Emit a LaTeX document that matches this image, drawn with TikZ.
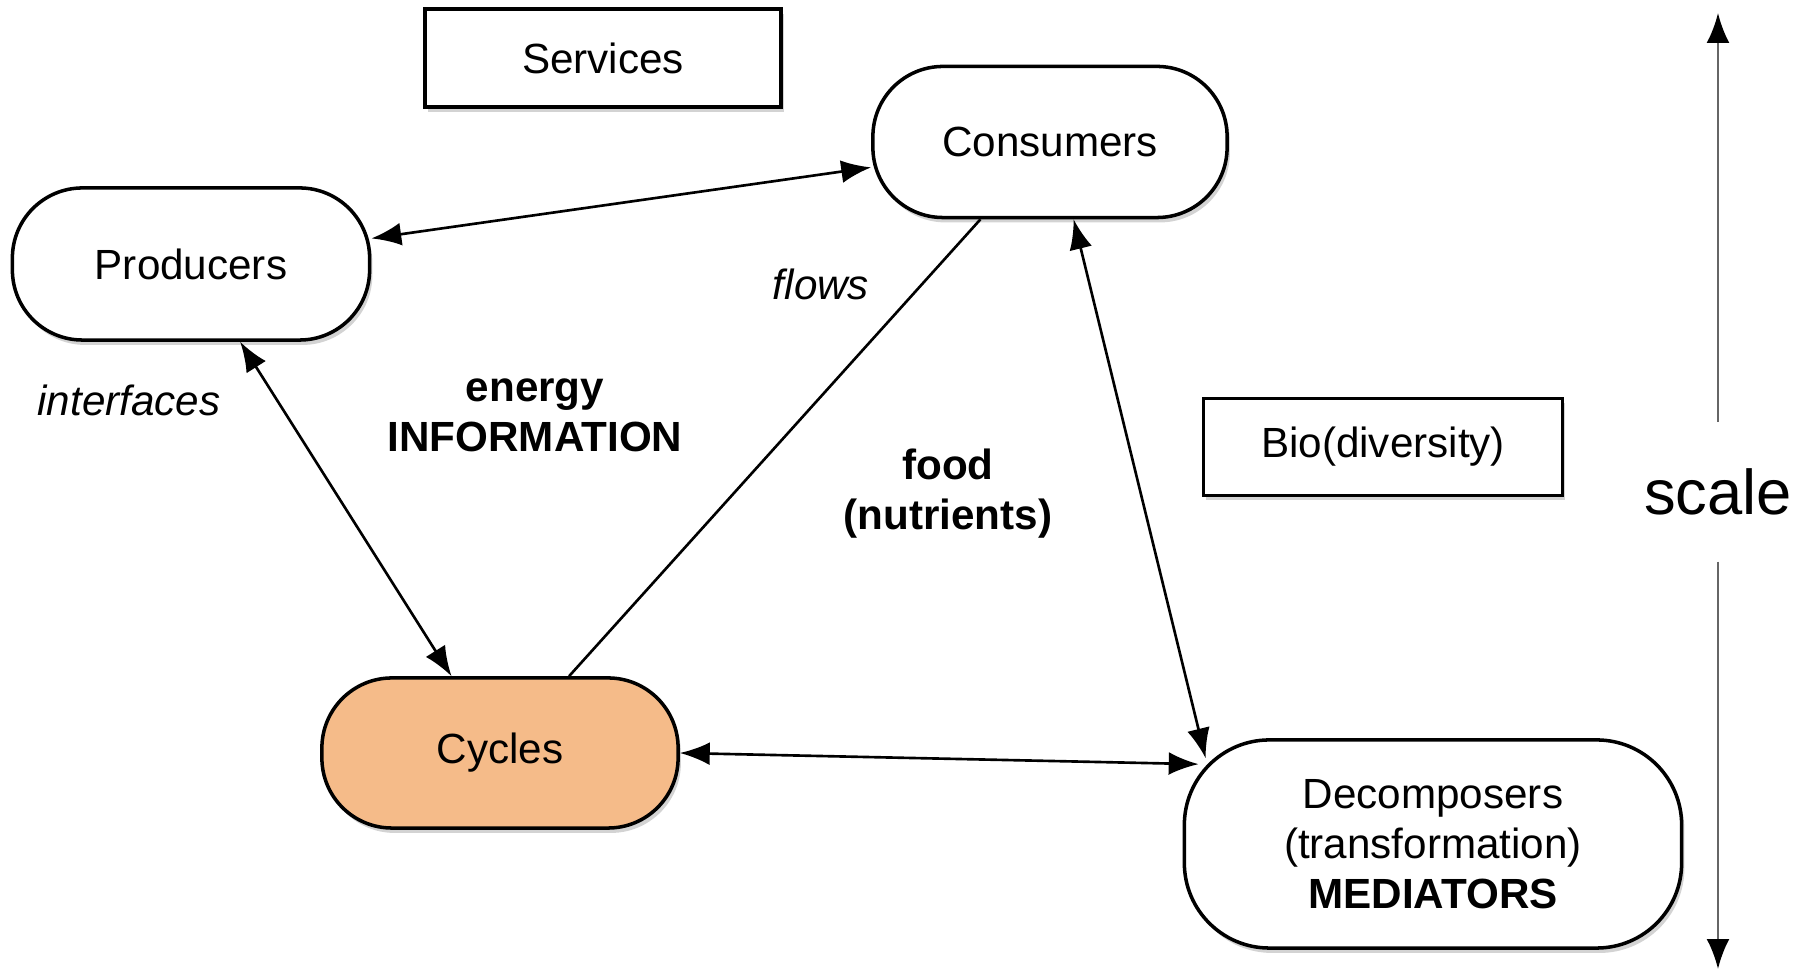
\documentclass[tikz,border=0pt]{standalone}
\usepackage{fontspec}
\setmainfont{Liberation Sans}
\usetikzlibrary{arrows.meta,calc,shadows}
\definecolor{cyclefill}{RGB}{245,187,137}

\begin{document}
\begin{tikzpicture}[x=0.01cm,y=-0.01cm,
	box/.style={draw,line width=1pt,fill=white,inner sep=0pt,align=center,
		font=\fontsize{12}{14.2}\selectfont,
		drop shadow={shadow xshift=0.8pt,shadow yshift=-1.4pt,opacity=0.35}},
	blob/.style={box,rounded corners=0.7cm},
	both/.style={{Latex[length=8.5pt,width=6.5pt]}-{Latex[length=8.5pt,width=6.5pt]},line width=0.75pt},
	lbl/.style={font=\fontsize{12}{14.2}\selectfont,align=center}]
\useasboundingbox (0,0) rectangle (1802,971);

% boxes
\node [box,minimum width=3.56cm,minimum height=0.98cm] (serv) at (603,58) {Services};
\node [blob,minimum width=3.54cm,minimum height=1.51cm] (cons) at (1050,142) {Consumers};
\node [blob,minimum width=3.57cm,minimum height=1.52cm] (prod) at (191,264) {Producers};
\node [blob,fill=cyclefill,minimum width=3.56cm,minimum height=1.50cm] (cyc) at (500,753) {Cycles};
\node [blob,rounded corners=0.85cm,minimum width=4.97cm,minimum height=2.08cm] (decomp) at (1433,844)
	{Decomposers\\(transformation)\\\textbf{MEDIATORS}};
\node [box,minimum width=3.59cm,minimum height=0.97cm] (bio) at (1383,447) {Bio(diversity)};

% labels
\node [lbl] (intf) at (129,400) {\textit{interfaces}};
\node [lbl] (flows) at (821,284) {\textit{flows}};
\node [lbl] (energy) at (535,415) {\textbf{energy}\\\textbf{INFORMATION}};
\node [lbl] (food) at (948,494) {\textbf{food}\\\textbf{(nutrients)}};

% connectors
\draw [both] (prod) -- (cons);
\draw [both] (prod) -- (cyc);
\draw [line width=0.75pt] (cons) -- (cyc);
\draw [both] (cons.287.5) -- ($(decomp.north west)+(23,20)$);
\draw [both] (cyc.east) -- ($(decomp.north west)+(16,26)$);

% scale
\node [font=\fontsize{18}{20}\selectfont,minimum height=1.38cm,inner sep=0pt] (scale) at (1718,492) {scale};
\coordinate (stop) at (1718,13);
\coordinate (sbot) at (1718,969);
\draw [line width=0.75pt,black!60,-{Latex[length=8.5pt,width=6.5pt,black]}] (scale.north) -- (stop);
\draw [line width=0.75pt,black!60,-{Latex[length=8.5pt,width=6.5pt,black]}] (scale.south) -- (sbot);

\end{tikzpicture}
\end{document}
